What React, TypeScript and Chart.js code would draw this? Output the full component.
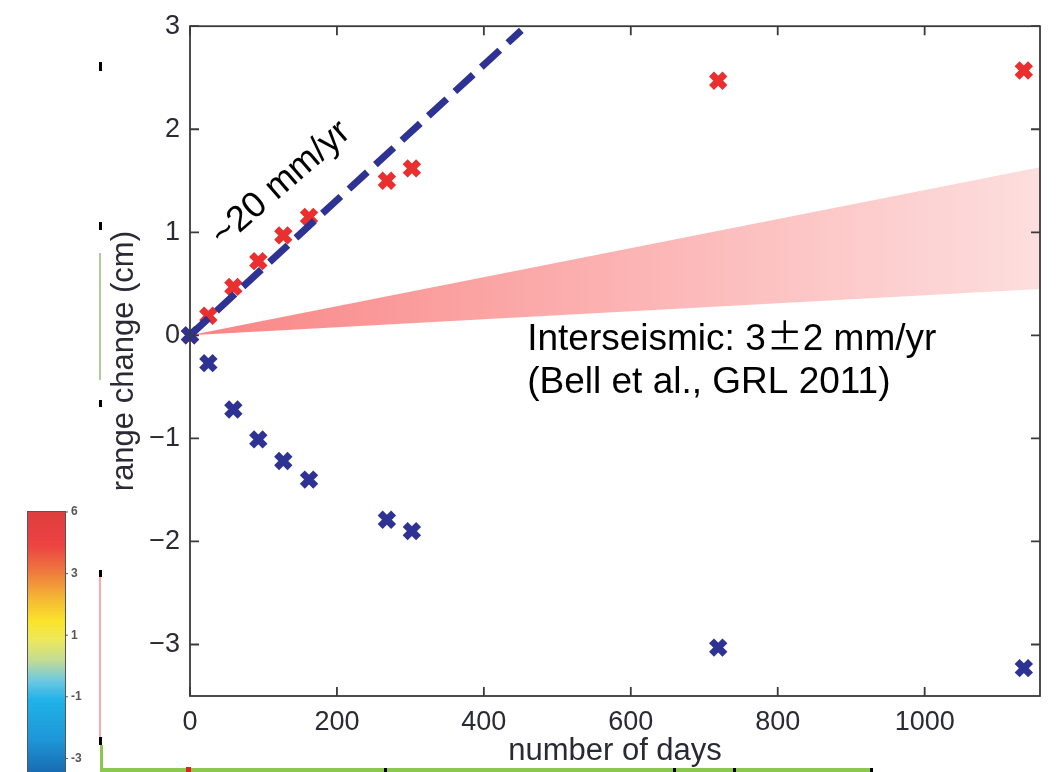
import React, { useEffect, useRef } from 'react';
import { Chart, registerables } from 'chart.js';

Chart.register(...registerables);

// ---- data ----
const days = [0, 25, 59, 93, 127, 162, 268, 302, 719, 1135];
const ascendingRange = [0, 0.19, 0.47, 0.72, 0.97, 1.15, 1.5, 1.62, 2.47, 2.57];
const descendingRange = [0, -0.27, -0.72, -1.01, -1.22, -1.4, -1.79, -1.9, -3.03, -3.23];
const trendDays = [0, 451];
const trendRange = [0, 2.96];
const wedgeDays = [0, 1157];
const wedgeUpper = [0, 1.63];
const wedgeLower = [0, 0.45];
const xLimits = [0, 1157];
const yLimits = [-3.5, 3];
const xTickStep = 200;
const yTickStep = 1;
const colorbarLabels = ['6', '3', '1', '-1', '-3'];
const rateLabel = '~20 mm/yr';
const rateAnchor = [124, 1.47];
const interLabel = ['Interseismic: 3', '±', '2 mm/yr'];
const refLabel = '(Bell et al., GRL 2011)';
const interAnchor = [459, -0.146];
const refAnchor = [459, -0.562];

const RED = 'rgb(235,46,46)';
const BLUE = 'rgb(46,50,146)';
const SANS = '"Liberation Sans", Arial, Helvetica, sans-serif';

const pts = (xs: number[], ys: number[]) => xs.map((x, i) => ({ x, y: ys[i] }));
const fmt = (v: number) => (v < 0 ? '\u2212' + Math.abs(v) : String(v));

const decorPlugin = {
  id: 'decor',
  afterDraw(chart: any) {
    const { ctx, chartArea: a, scales } = chart;
    const xs = scales.x;
    const ys = scales.y;
    ctx.save();

    // frame + inward ticks
    ctx.strokeStyle = '#3a3a3a';
    ctx.lineWidth = 1.8;
    ctx.strokeRect(a.left, a.top, a.right - a.left, a.bottom - a.top);
    ctx.beginPath();
    xs.ticks.forEach((t: any) => {
      const p = xs.getPixelForValue(t.value);
      ctx.moveTo(p, a.bottom);
      ctx.lineTo(p, a.bottom - 9);
      ctx.moveTo(p, a.top);
      ctx.lineTo(p, a.top + 9);
    });
    ys.ticks.forEach((t: any) => {
      const p = ys.getPixelForValue(t.value);
      ctx.moveTo(a.left, p);
      ctx.lineTo(a.left + 9, p);
      ctx.moveTo(a.right, p);
      ctx.lineTo(a.right - 9, p);
    });
    ctx.stroke();

    // rate annotation
    ctx.fillStyle = '#000';
    ctx.save();
    ctx.translate(xs.getPixelForValue(rateAnchor[0]), ys.getPixelForValue(rateAnchor[1]));
    ctx.rotate((-41 * Math.PI) / 180);
    ctx.font = '36px ' + SANS;
    ctx.textAlign = 'center';
    ctx.textBaseline = 'middle';
    ctx.fillText(rateLabel, 0, 0);
    ctx.restore();

    // interseismic annotation
    ctx.textAlign = 'left';
    ctx.textBaseline = 'alphabetic';
    let tx = xs.getPixelForValue(interAnchor[0]);
    const ty = ys.getPixelForValue(interAnchor[1]);
    interLabel.forEach((s, i) => {
      ctx.font = i === 1 ? '36px "Noto Sans CJK JP", ' + SANS : '37px ' + SANS;
      ctx.fillText(s, tx + (i === 1 ? 1 : 0), ty);
      tx += ctx.measureText(s).width + (i === 1 ? 1 : 0);
    });
    ctx.font = '37px ' + SANS;
    ctx.fillText(refLabel, xs.getPixelForValue(refAnchor[0]), ys.getPixelForValue(refAnchor[1]));

    // slide remnants: colour bar at lower left
    const cbL = 27, cbR = 65, cbT = 511, cbB = 772;
    const g = ctx.createLinearGradient(0, cbT, 0, cbB);
    g.addColorStop(0, 'rgb(222,62,62)');
    g.addColorStop(0.13, 'rgb(236,66,66)');
    g.addColorStop(0.234, 'rgb(238,122,62)');
    g.addColorStop(0.34, 'rgb(245,186,52)');
    g.addColorStop(0.425, 'rgb(250,228,42)');
    g.addColorStop(0.494, 'rgb(236,232,92)');
    g.addColorStop(0.57, 'rgb(196,220,146)');
    g.addColorStop(0.65, 'rgb(110,200,225)');
    g.addColorStop(0.724, 'rgb(32,178,232)');
    g.addColorStop(0.877, 'rgb(30,150,215)');
    g.addColorStop(1, 'rgb(25,108,178)');
    ctx.fillStyle = g;
    ctx.fillRect(cbL, cbT, cbR - cbL, cbB - cbT);
    ctx.strokeStyle = '#555';
    ctx.lineWidth = 1;
    ctx.strokeRect(cbL + 0.5, cbT + 0.5, cbR - cbL, cbB - cbT);
    ctx.font = 'bold 12px ' + SANS;
    ctx.fillStyle = '#555';
    ctx.textBaseline = 'middle';
    colorbarLabels.forEach((s, i) => {
      const y = cbT + 1 + i * 61.6;
      ctx.beginPath();
      ctx.moveTo(cbR, y);
      ctx.lineTo(cbR + 3, y);
      ctx.stroke();
      ctx.fillText(s, cbR + 6, y);
    });

    // slide remnants: edge marks
    ctx.fillStyle = '#000';
    [[62, 71], [222, 230], [400, 407], [570, 577], [737, 745]].forEach(([y0, y1]) => {
      ctx.fillRect(99, y0, 3, y1 - y0);
    });
    ctx.fillStyle = 'rgb(250,170,170)';
    ctx.fillRect(99, 577, 2, 160);
    ctx.fillStyle = 'rgba(120,170,90,0.6)';
    ctx.fillRect(99, 253, 2, 127);
    ctx.fillStyle = 'rgb(140,200,80)';
    ctx.fillRect(100, 745, 3, 27);
    ctx.fillRect(100, 768, 772, 4);
    ctx.fillStyle = '#000';
    [384, 673, 733, 870].forEach((x) => ctx.fillRect(x, 768, 3, 4));
    ctx.fillStyle = 'rgb(230,30,30)';
    ctx.fillRect(186, 767, 5, 5);

    ctx.restore();
  },
};

export default function App() {
  const ref = useRef<HTMLCanvasElement | null>(null);

  useEffect(() => {
    if (!ref.current) return;
    const chart = new Chart(ref.current, {
      type: 'line',
      data: {
        datasets: [
          {
            type: 'line',
            label: 'interseismic upper',
            data: pts(wedgeDays, wedgeUpper),
            borderWidth: 0,
            pointRadius: 0,
            fill: '+1',
            backgroundColor: (c: any) => {
              const a = c.chart.chartArea;
              if (!a) return 'rgb(250,160,160)';
              const g = c.chart.ctx.createLinearGradient(a.left, 0, a.right, 0);
              g.addColorStop(0, 'rgb(249,132,132)');
              g.addColorStop(0.5, 'rgb(252,178,178)');
              g.addColorStop(1, 'rgb(253,222,222)');
              return g;
            },
            order: 5,
          } as any,
          {
            type: 'line',
            label: 'interseismic lower',
            data: pts(wedgeDays, wedgeLower),
            borderWidth: 0,
            pointRadius: 0,
            fill: false,
            order: 6,
          } as any,
          {
            type: 'line',
            label: '~20 mm/yr',
            data: pts(trendDays, trendRange),
            borderColor: BLUE,
            borderWidth: 7,
            borderDash: [25, 11],
            borderCapStyle: 'butt',
            pointRadius: 0,
            fill: false,
            order: 2,
          } as any,
          {
            type: 'scatter',
            label: 'ascending',
            data: pts(days, ascendingRange),
            pointStyle: 'crossRot',
            pointRadius: 9.5,
            pointBorderWidth: 7,
            pointBorderColor: RED,
            borderColor: RED,
            backgroundColor: RED,
            clip: false,
            order: 3,
          } as any,
          {
            type: 'scatter',
            label: 'descending',
            data: pts(days, descendingRange),
            pointStyle: 'crossRot',
            pointRadius: 9.5,
            pointBorderWidth: 7,
            pointBorderColor: BLUE,
            borderColor: BLUE,
            backgroundColor: BLUE,
            clip: false,
            order: 1,
          } as any,
        ],
      },
      options: {
        animation: false,
        responsive: false,
        devicePixelRatio: 1,
        events: [],
        layout: { padding: { left: 0, right: 17, top: 25, bottom: 0 } },
        plugins: {
          legend: { display: false },
          tooltip: { enabled: false },
        },
        scales: {
          x: {
            type: 'linear',
            min: xLimits[0],
            max: xLimits[1],
            grid: { display: false, drawTicks: false },
            border: { display: false },
            ticks: {
              stepSize: xTickStep,
              includeBounds: false,
              padding: 10,
              color: '#2a2a35',
              font: { family: SANS, size: 27 },
              maxRotation: 0,
              callback: (v: any) => fmt(Number(v)),
            },
            title: {
              display: true,
              text: 'number of days',
              color: '#2a2a35',
              font: { family: SANS, size: 31 },
              padding: { top: 0, bottom: 2 },
            },
            afterFit: (s: any) => {
              s.height = 76;
            },
          },
          y: {
            type: 'linear',
            min: yLimits[0],
            max: yLimits[1],
            grid: { display: false, drawTicks: false },
            border: { display: false },
            ticks: {
              stepSize: yTickStep,
              includeBounds: false,
              padding: 10,
              color: '#2a2a35',
              font: { family: SANS, size: 27 },
              callback: (v: any) => fmt(Number(v)),
            },
            title: {
              display: true,
              text: 'range change (cm)',
              color: '#2a2a35',
              font: { family: SANS, size: 31 },
              padding: { top: 106, bottom: 0 },
            },
            afterFit: (s: any) => {
              s.width = 190;
            },
          },
        },
      } as any,
      plugins: [decorPlugin],
    });
    return () => chart.destroy();
  }, []);

  return (
    <div style={{ position: 'absolute', left: 0, top: 0, width: 1057, height: 772, background: '#fff', overflow: 'hidden' }}>
      <canvas ref={ref} width={1057} height={772} style={{ display: 'block' }} />
    </div>
  );
}
